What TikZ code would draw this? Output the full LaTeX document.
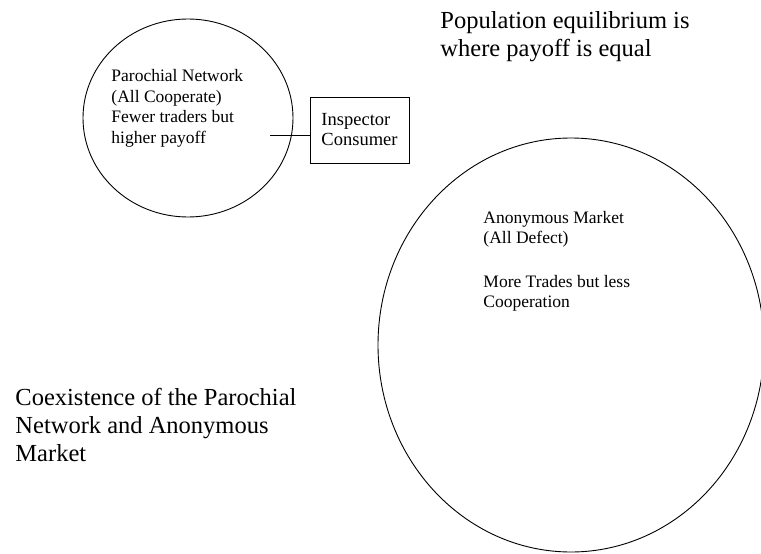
\documentclass[tikz,border=0pt]{standalone}
\usepackage{fontspec}
\setmainfont{Liberation Serif}
\usetikzlibrary{positioning, shapes}

\begin{document}
\begin{tikzpicture}[x=1pt, y=-1pt, line width=0.9pt, every node/.style={align=left, inner sep=0pt, font=\fontsize{17.5}{20.5}\selectfont}]
        \useasboundingbox (0,0) rectangle (761,554);
        \node (parochial) [draw, ellipse, minimum width=210pt, minimum height=198pt] at (188,118) {};
        \node (market) [draw, ellipse, minimum width=386pt, minimum height=414pt] at (571,345) {};
        \node (inspector) [draw, rectangle, minimum width=99pt, minimum height=66pt, font=\fontsize{18.5}{20}\selectfont] at (359.5,130) {Inspector\\Consumer};
        \coordinate (tie) at (270,135);

        % base anchor = baseline of the last line
        \node (parochial text) [anchor=base west] at (111,143) {Parochial Network\\(All Cooperate)\\Fewer traders but\\higher payoff};
        \node (market text) [anchor=base west] at (483,307.5) {Anonymous Market\\(All Defect)\\[23pt]More Trades but less\\Cooperation};
        \node (equilibrium) [anchor=base west, font=\fontsize{24.5}{28.5}\selectfont] at (440,56.5) {Population equilibrium is\\where payoff is equal};
        \node (coexistence) [anchor=base west, font=\fontsize{24.5}{28}\selectfont] at (15,461) {Coexistence of the Parochial\\Network and Anonymous\\Market};

        \draw (tie) -- (tie -| inspector.west);
    \end{tikzpicture}
\end{document}
